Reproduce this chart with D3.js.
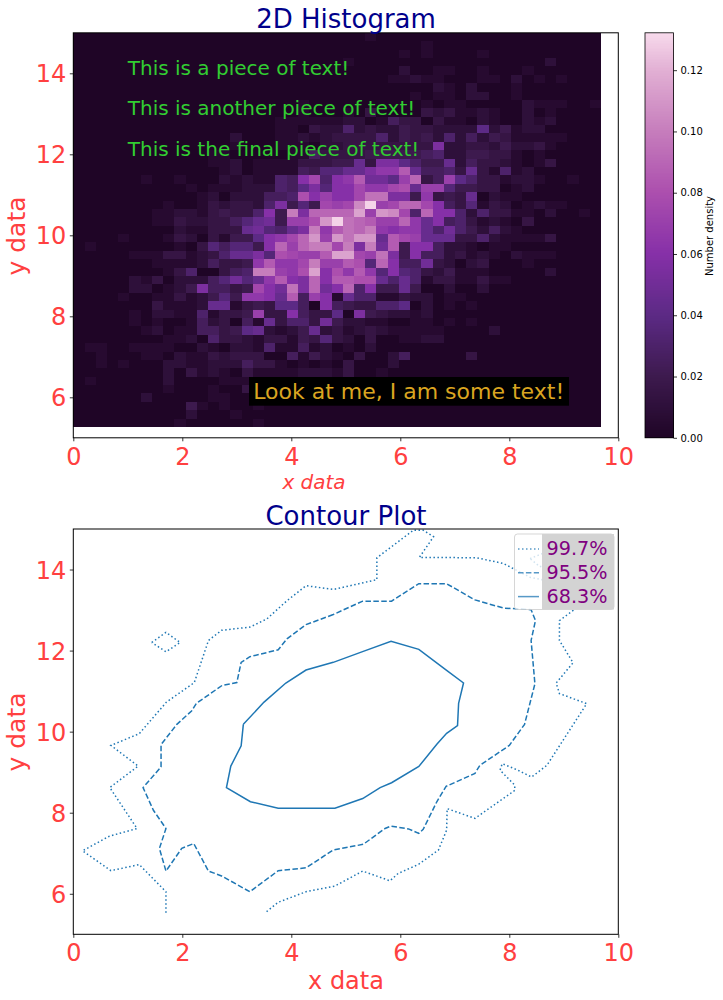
<!DOCTYPE html>
<html>
<head>
<meta charset="utf-8">
<script src="https://cdn.jsdelivr.net/npm/d3@7"></script>
<style>
    body { margin: 0; background: #fff; }
    svg { display: block; font-family: 'DejaVu Sans', sans-serif; }
</style>
</head>
<body>
<svg id="chart" width="723" height="1000"></svg>
<script>
// === DATA ===

// 2D histogram, top row first, in units of DENSITY_STEP
const DENSITY_STEP = 0.005;
const BIN_X = 0.206;
const BIN_Y = 0.2071;
const histLevels = [
    [0,0,0,0,0,0,0,0,0,0, 0,0,0,0,0,0,0,0,0,0, 0,0,0,0,0,0,1,0,0,0, 0,0,0,0,0,0,0,0,0,0, 0,0,0,0,0,0,0],
    [0,0,0,0,0,0,0,0,0,0, 0,0,0,0,0,0,0,0,0,0, 0,0,0,0,0,0,0,0,0,0, 0,1,0,0,0,0,0,0,0,0, 0,0,0,0,0,0,0],
    [0,0,0,0,0,0,0,0,0,0, 0,0,0,0,0,0,0,0,0,0, 0,0,0,0,0,0,0,0,0,1, 0,1,0,0,0,0,1,0,0,0, 0,0,0,0,0,0,0],
    [0,0,0,0,0,0,0,0,0,0, 0,0,0,0,0,0,0,0,0,0, 0,0,0,0,1,0,0,0,0,0, 0,0,0,0,0,0,0,0,0,0, 0,0,2,0,0,0,0],
    [0,0,0,0,0,0,0,0,0,0, 0,0,0,0,0,0,0,0,0,0, 0,0,0,0,0,0,0,0,0,2, 0,0,1,1,0,0,1,0,0,0, 1,0,0,0,0,0,0],
    [0,0,0,0,0,0,0,0,0,0, 0,0,0,0,0,0,0,0,0,0, 0,0,0,0,0,0,0,0,1,1, 2,1,1,0,0,0,1,1,0,2, 0,1,0,1,0,0,0],
    [0,0,0,0,0,0,0,0,0,0, 0,0,0,0,0,0,0,0,0,0, 0,0,0,0,0,0,0,0,0,0, 0,0,2,1,0,2,0,0,0,1, 0,0,0,0,0,0,0],
    [0,0,0,0,0,0,0,0,0,0, 0,0,0,0,0,0,0,0,0,0, 0,0,0,0,0,0,0,0,0,0, 1,0,1,1,0,2,2,0,0,1, 0,0,0,0,0,0,0],
    [0,0,0,0,0,0,0,0,0,0, 0,0,0,0,0,0,0,0,0,0, 1,0,0,0,0,0,0,0,0,0, 0,1,0,1,1,0,0,0,0,0, 2,1,1,1,0,0,1],
    [0,0,0,0,0,0,0,0,0,0, 0,0,0,0,0,0,0,0,0,0, 1,0,0,0,1,0,3,0,0,0, 0,3,2,3,1,1,2,1,0,0, 2,0,1,0,0,0,0],
    [0,0,0,0,0,0,0,0,0,0, 0,0,0,0,0,0,0,0,1,1, 1,1,1,1,2,2,0,1,5,3, 3,0,3,1,1,0,2,1,0,0, 2,1,2,0,0,0,0],
    [0,0,0,0,0,0,0,0,0,0, 0,0,0,0,0,0,0,0,1,1, 0,3,2,2,6,2,3,2,2,4, 3,3,2,2,2,2,8,2,4,1, 2,2,0,0,0,0,0],
    [0,0,0,0,0,0,0,0,0,0, 0,0,0,0,2,0,0,0,1,1, 2,1,2,3,3,3,3,6,2,4, 3,4,2,6,2,5,2,4,3,1, 1,1,1,1,0,0,0],
    [0,0,0,0,0,0,0,0,0,0, 0,0,0,0,1,0,0,0,1,1, 1,0,2,2,3,3,3,3,3,3, 3,3,11,2,2,3,3,2,4,2, 2,3,1,0,0,0,0],
    [0,0,0,0,0,0,0,0,0,0, 0,0,1,1,0,0,0,0,0,1, 1,5,3,3,3,3,4,4,4,4, 4,5,6,2,2,4,4,3,3,1, 0,1,0,0,0,0,0],
    [0,0,0,0,0,0,0,0,0,0, 0,0,1,1,2,0,1,1,1,1, 3,3,3,4,4,9,3,11,11,8, 6,4,4,9,2,5,3,3,2,1, 0,1,3,0,0,0,0],
    [0,0,0,0,0,0,0,0,0,0, 0,0,0,1,2,0,1,1,1,1, 5,4,7,7,9,9,11,13,13,17, 9,5,5,6,3,9,3,1,6,1, 2,0,0,0,0,0,0],
    [0,0,0,0,0,0,1,0,0,1, 0,0,0,2,1,2,1,1,6,5, 12,15,6,12,13,17,10,10,8,14, 18,3,5,14,8,6,3,3,1,2, 2,1,0,0,1,0,0],
    [0,0,0,0,0,0,0,0,0,0, 1,0,1,1,1,2,2,2,6,5, 8,11,7,12,12,15,13,13,15,16, 9,14,14,7,4,4,3,3,0,1, 2,0,0,0,0,0,0],
    [0,0,0,0,0,0,0,0,0,0, 0,1,2,0,2,2,2,5,5,6, 16,12,14,12,12,15,19,19,11,11, 4,13,3,4,3,9,0,2,1,1, 0,0,0,0,0,0,0],
    [0,0,0,0,0,0,0,0,1,0, 0,1,3,2,3,3,2,6,11,4, 7,4,15,14,15,21,26,14,15,18, 18,15,12,5,3,7,1,3,2,0, 1,2,1,1,0,0,0],
    [0,0,0,0,0,0,0,1,1,2, 2,1,3,4,3,3,6,12,4,20, 11,18,18,18,18,23,14,22,21,15, 6,18,12,12,6,2,6,3,3,1, 1,0,2,0,0,1,0],
    [0,0,0,0,0,0,0,1,1,3, 2,2,3,3,5,7,9,10,4,14, 14,16,22,26,19,18,17,14,14,18, 13,9,12,5,6,3,1,2,1,0, 3,0,0,0,0,0,0],
    [0,0,0,0,0,0,0,0,0,2, 1,1,3,3,3,9,10,7,6,9, 11,20,13,17,19,18,20,13,12,13, 13,9,6,10,6,4,2,5,2,1, 0,0,0,0,0,0,0],
    [0,0,0,0,1,0,0,0,1,3, 2,0,3,1,4,4,8,12,13,15, 18,22,14,22,19,22,22,9,17,15, 14,9,9,9,3,3,6,2,1,1, 1,1,3,0,0,0,0],
    [0,1,0,0,0,0,0,0,0,1, 0,3,7,5,7,7,4,12,18,14, 18,20,20,15,20,11,20,10,17,4, 12,12,5,2,2,1,0,1,1,0, 0,0,0,0,0,0,0],
    [0,0,0,0,0,1,1,1,3,3, 1,2,3,6,9,9,11,7,16,15, 14,14,17,23,23,15,14,19,11,4, 12,5,5,2,3,1,2,1,0,2, 1,1,1,0,0,0,0],
    [0,0,0,0,0,0,0,1,1,1, 1,2,5,3,3,4,13,17,13,13, 15,20,14,14,17,16,7,18,12,5, 5,10,3,2,0,2,3,0,0,0, 1,0,0,0,0,0,0],
    [0,0,0,0,0,0,0,0,1,3, 6,0,0,3,5,6,20,20,14,13, 16,23,12,16,13,17,13,7,12,7, 6,3,2,4,1,1,1,0,0,0, 0,0,2,0,0,0,0],
    [0,0,0,0,0,2,1,3,0,2, 2,2,5,7,10,7,9,13,17,12, 11,18,12,17,17,16,16,9,6,9, 6,1,3,3,1,1,3,1,1,0, 0,0,0,0,0,0,0],
    [0,0,0,0,0,2,2,0,1,2, 4,11,5,5,3,4,15,12,10,19, 11,18,10,12,18,6,12,4,4,9, 4,0,0,2,0,0,2,0,0,0, 0,0,0,0,0,0,0],
    [0,0,0,0,1,0,0,1,1,3, 1,2,4,7,4,13,13,12,9,17, 5,14,12,1,9,6,6,1,1,3, 2,2,0,1,1,0,0,0,0,0, 0,0,0,0,0,0,0],
    [0,0,0,0,0,0,0,3,1,1, 1,2,9,9,1,3,4,3,8,8, 5,0,12,5,4,3,3,6,6,8, 0,2,0,1,0,1,0,0,0,0, 0,0,0,0,0,0,0],
    [0,0,0,0,0,1,0,2,2,1, 1,6,1,3,3,4,14,3,3,12, 5,3,3,8,0,11,4,3,2,2, 1,2,0,0,0,0,0,0,0,0, 0,0,0,0,0,0,0],
    [0,0,0,0,0,1,0,1,0,0, 1,5,2,3,0,5,1,9,3,6, 6,3,10,4,2,2,1,1,0,0, 1,1,0,1,0,1,0,0,0,0, 0,0,0,0,0,0,0],
    [0,0,0,0,0,0,1,2,0,1, 1,5,5,3,4,8,9,2,1,2, 4,9,2,3,1,2,3,2,1,1, 1,1,1,0,0,0,0,2,0,0, 0,0,0,0,0,0,0],
    [0,0,0,0,0,0,0,0,1,1, 2,0,6,3,3,2,1,3,3,1, 4,3,7,3,2,0,3,0,0,1, 1,2,2,0,0,0,0,0,0,0, 0,0,0,0,0,0,0],
    [0,1,1,0,0,1,1,1,1,0, 0,2,1,0,2,2,1,6,1,1, 5,1,2,0,1,0,2,0,0,0, 0,0,0,0,0,0,0,0,0,0, 0,0,0,0,0,0,0],
    [0,0,1,0,0,0,1,1,0,2, 1,1,3,2,3,3,3,0,0,5, 1,4,2,1,0,3,0,0,2,5, 0,0,0,0,0,3,0,0,0,0, 0,0,0,0,0,0,0],
    [0,0,1,0,1,0,0,0,2,2, 1,1,2,2,2,5,3,3,1,0, 1,0,1,0,3,0,0,0,2,0, 0,0,0,0,0,0,0,0,0,0, 0,0,0,0,0,0,0],
    [0,0,0,0,0,0,0,0,2,0, 3,1,2,1,0,3,1,1,1,1, 2,2,2,1,3,0,0,1,0,0, 0,0,0,0,0,0,0,0,0,0, 0,0,0,0,0,0,0],
    [0,1,0,0,0,0,0,0,2,0, 0,0,0,1,1,1,1,0,0,0, 0,0,0,0,0,0,0,0,0,0, 0,0,0,0,0,0,0,0,0,0, 0,0,0,0,0,0,0],
    [0,0,0,0,0,0,0,0,1,0, 0,0,1,0,0,3,0,0,0,0, 0,0,0,0,0,0,0,0,0,0, 0,0,0,0,0,0,0,0,0,0, 0,0,0,0,0,0,0],
    [0,0,0,0,0,0,2,0,0,0, 0,0,1,1,0,0,0,0,0,0, 0,0,0,0,0,0,0,0,0,0, 0,0,0,0,0,0,0,0,0,0, 0,0,0,0,0,0,0],
    [0,0,0,0,0,0,0,0,0,0, 4,1,0,1,0,0,1,0,0,0, 0,0,0,0,0,0,0,0,0,0, 0,0,0,0,0,0,0,0,0,0, 0,0,0,0,0,0,0],
    [0,0,0,0,0,0,0,0,0,0, 2,0,0,0,1,0,0,0,0,0, 0,0,0,0,0,0,0,0,0,0, 0,0,0,0,0,0,0,0,0,0, 0,0,0,0,0,0,0],
    [0,0,0,0,0,0,0,0,0,1, 0,0,0,0,0,0,1,0,0,0, 0,0,0,0,0,0,0,0,0,0, 0,0,0,0,0,0,0,0,0,0, 0,0,0,0,0,0,0]
];

const xTicks = [0, 2, 4, 6, 8, 10];
const yTicks = [6, 8, 10, 12, 14];
const cbarTicks = [0, 0.02, 0.04, 0.06, 0.08, 0.10, 0.12];
const CBAR_MAX = 0.1322;

// colour map
const cmapStops = [0, 0.02, 0.04, 0.06, 0.08, 0.10, 0.12, CBAR_MAX];
const cmapColors = ['#1f0526', '#3d1a4e', '#5c2a85', '#8630a8', '#ac4fae', '#c67dbc', '#e2b0d4', '#f8dbec'];

const greenNotes = ['This is a piece of text!', 'This is another piece of text!', 'This is the final piece of text!'];
const greenNoteY = [14, 13, 12];

// contour vertices [x, y], data units
const contour68 = [[3.12,10.18],[3.08,9.65],[2.89,9.15],[2.81,8.62],[3.25,8.27],[3.76,8.11],[4.80,8.11],[5.31,8.35],[5.63,8.62],[5.84,8.74],[6.34,9.14],[6.67,9.69],[6.85,9.96],[7.05,10.15],[7.07,10.70],[7.16,11.20],[6.85,11.51],[6.34,12.03],[5.83,12.23],[5.32,11.98],[4.77,11.71],[4.27,11.52],[3.90,11.20],[3.50,10.73],[3.12,10.18]];
const contour95 = [[4.77,12.89],[4.27,12.64],[3.92,12.29],[3.76,12.02],[3.24,11.85],[3.08,11.71],[3.00,11.21],[2.73,11.14],[2.26,10.70],[2.17,10.51],[1.90,10.18],[1.61,9.68],[1.61,9.13],[1.28,8.62],[1.47,8.06],[1.70,7.61],[1.58,7.12],[1.70,6.56],[1.99,7.12],[2.21,7.24],[2.48,6.56],[2.72,6.44],[3.24,6.05],[3.76,6.57],[4.27,6.64],[4.77,7.08],[5.32,7.22],[5.72,7.61],[5.83,7.67],[6.15,7.60],[6.34,7.49],[6.42,7.59],[6.67,8.27],[6.84,8.65],[7.37,8.97],[7.46,9.17],[8.00,9.66],[8.28,10.18],[8.47,11.18],[8.40,12.25],[8.48,12.74],[8.40,13.01],[7.89,13.05],[7.37,13.25],[6.85,13.65],[6.34,13.65],[5.84,13.22],[5.31,13.22],[4.77,12.89]];
const contour997 = [[1.70,5.53],[1.70,6.05],[1.21,6.72],[0.69,6.57],[0.17,7.06],[0.66,7.42],[1.17,7.61],[0.67,8.62],[1.19,9.15],[0.69,9.66],[1.21,9.95],[1.71,10.73],[2.22,11.21],[2.48,12.25],[2.72,12.50],[3.24,12.58],[3.55,12.78],[3.92,13.23],[4.27,13.60],[4.78,13.51],[5.57,13.75],[5.57,14.29],[6.24,14.97],[6.42,14.97],[6.61,14.81],[6.35,14.30],[7.40,14.29],[7.89,14.15],[8.38,13.81],[8.60,13.75],[8.90,13.60],[9.30,13.20],[9.17,12.99],[8.92,12.74],[8.92,12.25],[9.17,11.70],[8.86,11.20],[8.92,10.94],[9.42,10.69],[8.69,9.17],[8.41,8.88],[8.14,9.06],[7.87,9.21],[7.83,9.05],[8.10,8.68],[8.10,8.55],[7.37,7.86],[6.86,8.10],[6.85,7.57],[6.70,7.08],[6.34,6.73],[5.96,6.50],[5.81,6.32],[5.31,6.56],[4.80,6.19],[4.27,6.05],[3.76,5.79],[3.52,5.53]];
const island997a = [[1.44,12.20],[1.70,12.45],[1.96,12.20],[1.70,11.97],[1.44,12.20]];
const island997b = [[8.38,14.27],[8.62,14.40],[8.93,14.22],[8.56,14.07],[8.38,14.27]];

const contourSeries = [
    { label: '99.7%', dash: '1.5,2.5', paths: [contour997, island997a, island997b] },
    { label: '95.5%', dash: '5.5,2.4', paths: [contour95] },
    { label: '68.3%', dash: null, paths: [contour68] }
];

// === LAYOUT ===

const PLOT_LEFT = 73.3;
const PLOT_RIGHT = 618.3;
const TOP_PANEL = { top: 32.8, bottom: 437.8 };
const BOTTOM_PANEL = { top: 529, bottom: 934.3 };
const CBAR = { left: 645, right: 673.5 };

const RED = '#ff4040';
const LINE_BLUE = '#1f77b4';

const svg = d3.select('#chart');
const x = d3.scaleLinear().domain([0, 10]).range([PLOT_LEFT, PLOT_RIGHT]);
const yTop = d3.scaleLinear().domain([5, 15]).range([TOP_PANEL.bottom, TOP_PANEL.top]);
const yBottom = d3.scaleLinear().domain([5, 15]).range([BOTTOM_PANEL.bottom, BOTTOM_PANEL.top]);
const density = d3.scaleLinear().domain(cmapStops).range(cmapColors);

// === AXES / FRAME ===

function drawAxes(y, panel) {
    const xAxis = svg.append('g')
        .attr('transform', `translate(0, ${panel.bottom})`)
        .call(d3.axisBottom(x).tickValues(xTicks).tickFormat(d3.format('d')).tickSize(3.5).tickPadding(6.5));
    const yAxis = svg.append('g')
        .attr('transform', `translate(${PLOT_LEFT}, 0)`)
        .call(d3.axisLeft(y).tickValues(yTicks).tickFormat(d3.format('d')).tickSize(3.5).tickPadding(3.5));

    [xAxis, yAxis].forEach(axis => {
        axis.select('.domain').remove();
        axis.selectAll('.tick line').attr('stroke', '#000').attr('stroke-width', 0.8);
        axis.selectAll('.tick text')
            .attr('fill', RED)
            .style('font-size', '24px')
            .style('font-family', "'DejaVu Sans'");
    });
    yAxis.selectAll('.tick text').attr('dy', '0.36em');

    svg.append('rect')
        .attr('x', PLOT_LEFT)
        .attr('y', panel.top)
        .attr('width', PLOT_RIGHT - PLOT_LEFT)
        .attr('height', panel.bottom - panel.top)
        .attr('fill', 'none')
        .attr('stroke', '#000')
        .attr('stroke-width', 1);
}

function addText(px, py, str, size, color, opts = {}) {
    const t = svg.append('text')
        .attr('x', px)
        .attr('y', py)
        .attr('fill', color)
        .attr('text-anchor', opts.anchor || 'start')
        .style('font-size', size + 'px')
        .text(str);
    if (opts.rotate) t.attr('transform', `rotate(-90 ${px} ${py})`);
    if (opts.italic) t.style('font-style', 'italic');
    return t;
}

// === HISTOGRAM PANEL ===

const cells = histLevels.flatMap((row, r) => row.map((level, c) => ({ r, c, level })));

svg.append('g')
    .attr('shape-rendering', 'crispEdges')
    .selectAll('rect')
    .data(cells)
    .join('rect')
    .attr('x', d => x(d.c * BIN_X))
    .attr('y', d => yTop(15 - d.r * BIN_Y))
    .attr('width', x(BIN_X) - x(0) + 0.3)
    .attr('height', yTop(0) - yTop(BIN_Y) + 0.3)
    .attr('fill', d => density(d.level * DENSITY_STEP));

drawAxes(yTop, TOP_PANEL);

addText(346, 28, '2D Histogram', 26, '#00008b', { anchor: 'middle' });
addText(314, 489, 'x data', 20, RED, { anchor: 'middle', italic: true });
addText(24.5, 236, 'y data', 25, RED, { anchor: 'middle', rotate: true });

greenNotes.forEach((note, i) => {
    addText(x(1), yTop(greenNoteY[i]) + 1.5, note, 20, '#32cd32');
});

svg.append('rect')
    .attr('x', 249)
    .attr('y', 377)
    .attr('width', 320)
    .attr('height', 28.7)
    .attr('fill', '#000');
addText(x(3.3), yTop(6) + 1.5, 'Look at me, I am some text!', 22, '#daa520');

// === COLOURBAR ===

const cbarY = d3.scaleLinear().domain([0, CBAR_MAX]).range([TOP_PANEL.bottom, TOP_PANEL.top]);
const cbarSteps = d3.range(0, 256).map(i => i / 256 * CBAR_MAX);

svg.append('g')
    .attr('shape-rendering', 'crispEdges')
    .selectAll('rect')
    .data(cbarSteps)
    .join('rect')
    .attr('x', CBAR.left)
    .attr('width', CBAR.right - CBAR.left)
    .attr('y', d => cbarY(d + CBAR_MAX / 256))
    .attr('height', cbarY(0) - cbarY(CBAR_MAX / 256) + 0.5)
    .attr('fill', d => density(d));

svg.append('rect')
    .attr('x', CBAR.left)
    .attr('y', TOP_PANEL.top)
    .attr('width', CBAR.right - CBAR.left)
    .attr('height', TOP_PANEL.bottom - TOP_PANEL.top)
    .attr('fill', 'none')
    .attr('stroke', '#000')
    .attr('stroke-width', 0.8);

const cbarAxis = svg.append('g')
    .attr('transform', `translate(${CBAR.right}, 0)`)
    .call(d3.axisRight(cbarY).tickValues(cbarTicks).tickFormat(d3.format('.2f')).tickSize(3.5).tickPadding(3.5));
cbarAxis.select('.domain').remove();
cbarAxis.selectAll('.tick line').attr('stroke', '#000').attr('stroke-width', 0.8);
cbarAxis.selectAll('.tick text')
    .attr('fill', '#000')
    .style('font-size', '10px')
    .style('font-family', "'DejaVu Sans'");

addText(713, 236, 'Number density', 10, '#000', { anchor: 'middle', rotate: true });

// === CONTOUR PANEL ===

const contourLine = d3.line().x(d => x(d[0])).y(d => yBottom(d[1]));

contourSeries.forEach(s => {
    s.paths.forEach(path => {
        svg.append('path')
            .attr('d', contourLine(path))
            .attr('fill', 'none')
            .attr('stroke', LINE_BLUE)
            .attr('stroke-width', 1.5)
            .attr('stroke-dasharray', s.dash);
    });
});

drawAxes(yBottom, BOTTOM_PANEL);

addText(346, 525, 'Contour Plot', 26, '#00008b', { anchor: 'middle' });
addText(346, 989, 'x data', 24, RED, { anchor: 'middle' });
addText(24.5, 732, 'y data', 25, RED, { anchor: 'middle', rotate: true });

// === LEGEND ===

svg.append('rect')
    .attr('x', 514.5)
    .attr('y', 534)
    .attr('width', 99.5)
    .attr('height', 75.5)
    .attr('rx', 3)
    .attr('fill', '#fff')
    .attr('fill-opacity', 0.8)
    .attr('stroke', '#ccc')
    .attr('stroke-opacity', 0.8);

svg.append('rect')
    .attr('x', 542)
    .attr('y', 534)
    .attr('width', 72)
    .attr('height', 75.5)
    .attr('fill', '#d3d3d3');

contourSeries.forEach((s, i) => {
    const rowY = 549 + i * 23.8;
    svg.append('line')
        .attr('x1', 518)
        .attr('x2', 539)
        .attr('y1', rowY)
        .attr('y2', rowY)
        .attr('stroke', LINE_BLUE)
        .attr('stroke-opacity', 0.75)
        .attr('stroke-width', 1.5)
        .attr('stroke-dasharray', s.dash);
    addText(546.5, rowY + 5.5 + 0.4, s.label, 19.2, '#800080');
});
</script>
</body>
</html>
